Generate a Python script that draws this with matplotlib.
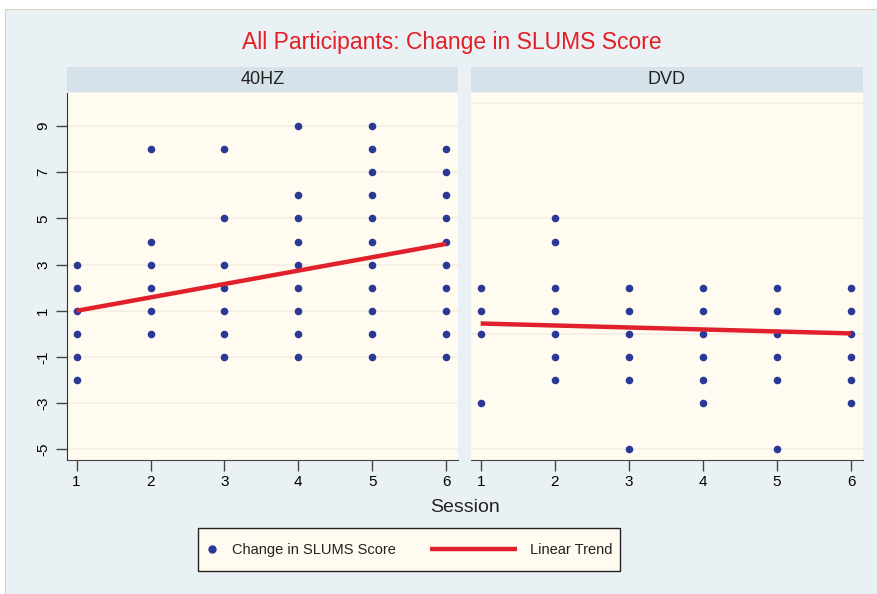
import matplotlib

matplotlib.use("Agg")
import matplotlib.pyplot as plt
from matplotlib.lines import Line2D
from matplotlib.patches import Rectangle

plt.rcParams["font.family"] = ["Liberation Sans", "DejaVu Sans"]

PANELS = ["40HZ", "DVD"]
SESSIONS = [1, 2, 3, 4, 5, 6]

HZ40_SCORES = [
    [3, 2, 1, 0, -1, -2],
    [8, 4, 3, 2, 1, 0],
    [8, 5, 3, 2, 1, 0, -1],
    [9, 6, 5, 4, 3, 2, 1, 0, -1],
    [9, 8, 7, 6, 5, 4, 3, 2, 1, 0, -1],
    [8, 7, 6, 5, 4, 3, 2, 1, 0, -1],
]
DVD_SCORES = [
    [2, 1, 0, -3],
    [5, 4, 2, 1, 0, -1, -2],
    [2, 1, 0, -1, -2, -5],
    [2, 1, 0, -1, -2, -3],
    [2, 1, 0, -1, -2, -5],
    [2, 1, 0, -1, -2, -3],
]
# linear trend value at session 1 and session 6
HZ40_TREND = [1.0, 3.9]
DVD_TREND = [0.45, 0.02]

Y_TICKS = [-5, -3, -1, 1, 3, 5, 7, 9]
LEGEND_LABELS = ["Change in SLUMS Score", "Linear Trend"]

BG = "#eaf1f5"
PLOT_BG = "#fffbf0"
STRIP_BG = "#d6e2ea"
DOT = "#2a3896"
RED = "#e0202a"

W, H = 878, 594
fig = plt.figure(figsize=(W / 100, H / 100), dpi=100, facecolor="white")
fig.patches.append(Rectangle((5 / W, 0), 1, 1 - 9 / H, transform=fig.transFigure,
                             facecolor=BG, edgecolor="#d8d4c0", lw=0.8, zorder=-10))


def px(x0, y0, x1, y1):
    """Pixel box (top-left origin) -> figure fraction rect."""
    return [x0 / W, 1 - y1 / H, (x1 - x0) / W, (y1 - y0) / H]


def fx(x):
    return x / W


def fy(y):
    return 1 - y / H


fig.text(fx(452), fy(43), "All Participants: Change in SLUMS Score",
         color="#e31e24", fontsize=16.5, ha="center", va="center")

boxes = [(67, 458), (471, 863)]
data = [(HZ40_SCORES, HZ40_TREND), (DVD_SCORES, DVD_TREND)]
for k, (name, (x0, x1), (scores, trend)) in enumerate(zip(PANELS, boxes, data)):
    strip = fig.add_axes(px(x0, 67, x1, 92))
    strip.set_facecolor(STRIP_BG)
    strip.set_xticks([])
    strip.set_yticks([])
    for s in strip.spines.values():
        s.set_visible(False)
    strip.text(0.5, 0.5, name, ha="center", va="center", fontsize=13, color="#222222")

    ax = fig.add_axes(px(x0, 93, x1, 460))
    ax.set_facecolor(PLOT_BG)
    ax.set_xlim(0.87, 6.16)
    ax.set_ylim(-5.46, 10.43)
    grid_y = Y_TICKS if k == 0 else [-5, 0, 5, 10]
    for g in grid_y:
        ax.axhline(g, color="#f3eee3", lw=1.2, zorder=0)
    for sess, vals in zip(SESSIONS, scores):
        ax.scatter([sess] * len(vals), vals, s=30, color=DOT, zorder=3, linewidths=0)
    ax.plot([SESSIONS[0], SESSIONS[-1]], trend, color=RED, lw=3.2, zorder=4,
            solid_capstyle="butt")

    ax.set_xticks(SESSIONS)
    ax.tick_params(axis="x", length=8, width=1, color="#444444", labelsize=11, pad=3)
    ax.spines["top"].set_visible(False)
    ax.spines["right"].set_visible(False)
    ax.spines["bottom"].set_color("#444444")
    if k == 0:
        ax.set_yticks(Y_TICKS)
        ax.set_yticklabels([str(v) for v in Y_TICKS], rotation=90, va="center")
        ax.tick_params(axis="y", length=8, width=1, color="#444444", labelsize=11, pad=4)
        ax.spines["left"].set_color("#333333")
    else:
        ax.set_yticks([])
        ax.spines["left"].set_visible(False)

fig.text(fx(465), fy(508), "Session", fontsize=14, ha="center", va="center",
         color="#222222")

# legend box drawn by hand: the dot key is narrow while the line key is wide
fig.patches.append(Rectangle((fx(198), fy(571)), (620 - 198) / W, (571 - 528) / H,
                             transform=fig.transFigure, facecolor=PLOT_BG,
                             edgecolor="#222222", lw=1.0))
fig.add_artist(Line2D([fx(212)], [fy(549)], marker="o", ls="none", color=DOT,
                      markersize=5, transform=fig.transFigure))
fig.text(fx(232), fy(550), LEGEND_LABELS[0], fontsize=10.5, ha="left", va="center",
         color="#222222")
fig.add_artist(Line2D([fx(430), fx(517)], [fy(549), fy(549)], color=RED, lw=3.2,
                      transform=fig.transFigure, solid_capstyle="butt"))
fig.text(fx(530), fy(550), LEGEND_LABELS[1], fontsize=10.5, ha="left", va="center",
         color="#222222")

fig.savefig("out.png", dpi=100, facecolor=fig.get_facecolor())
